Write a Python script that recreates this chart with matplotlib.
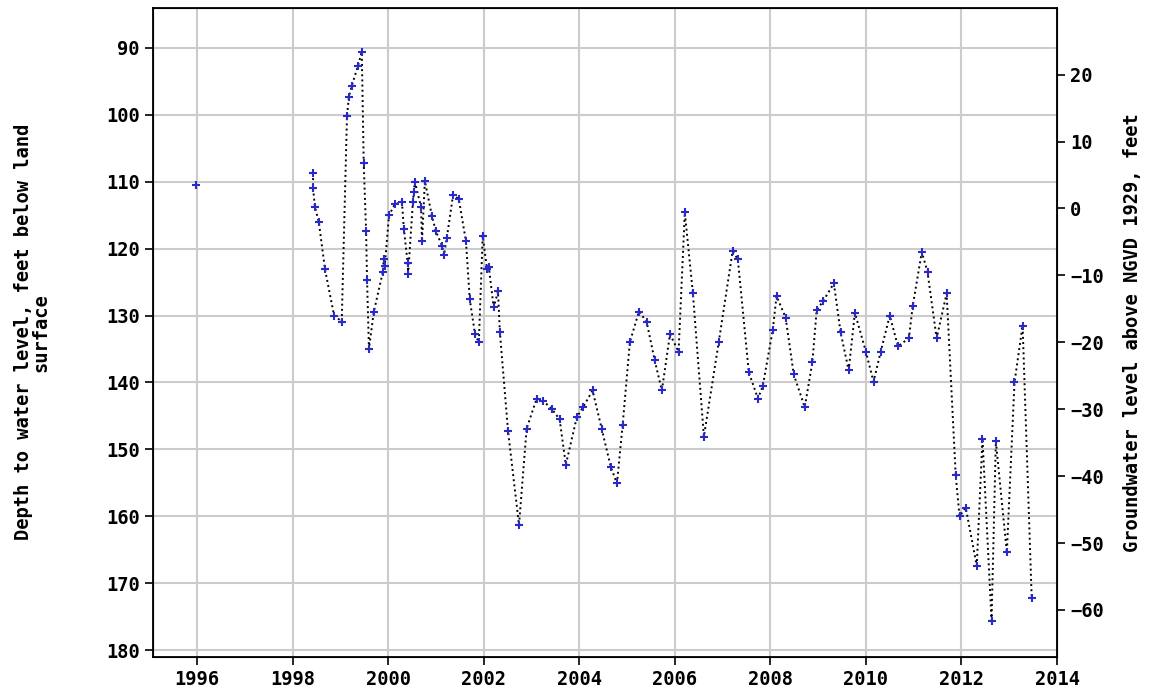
import matplotlib.pyplot as plt

# isolated early measurement
yr0 = [1995.98]
dep0 = [110.5]

years = [1998.43, 1998.43, 1998.47, 1998.55, 1998.68, 1998.87, 1999.03, 1999.14, 1999.18, 1999.24,
         1999.37, 1999.45, 1999.49, 1999.54, 1999.56, 1999.60, 1999.70, 1999.89, 1999.91, 1999.93,
         2000.02, 2000.14, 2000.29, 2000.33, 2000.41, 2000.42, 2000.52, 2000.54, 2000.56, 2000.69,
         2000.71, 2000.77, 2000.92, 2001.00, 2001.13, 2001.17, 2001.23, 2001.36, 2001.48, 2001.63,
         2001.71, 2001.82, 2001.90, 2001.98, 2002.07, 2002.11, 2002.21, 2002.30, 2002.34, 2002.51,
         2002.74, 2002.90, 2003.11, 2003.24, 2003.43, 2003.59, 2003.72, 2003.95, 2004.08, 2004.28,
         2004.47, 2004.66, 2004.79, 2004.91, 2005.06, 2005.25, 2005.41, 2005.58, 2005.73, 2005.90,
         2006.08, 2006.21, 2006.38, 2006.61, 2006.92, 2007.21, 2007.32, 2007.55, 2007.74, 2007.84,
         2008.05, 2008.13, 2008.32, 2008.49, 2008.72, 2008.88, 2008.97, 2009.10, 2009.33, 2009.47,
         2009.64, 2009.77, 2010.00, 2010.16, 2010.31, 2010.50, 2010.67, 2010.90, 2010.98, 2011.17,
         2011.29, 2011.48, 2011.69, 2011.88, 2011.96, 2012.09, 2012.32, 2012.44, 2012.63, 2012.72,
         2012.95, 2013.11, 2013.28, 2013.47]
depth = [108.7, 111.0, 113.8, 116.0, 123.1, 130.0, 130.9, 100.2, 97.3, 95.7,
         92.7, 90.6, 107.2, 117.4, 124.7, 135.0, 129.5, 123.5, 121.6, 122.6,
         115.0, 113.4, 113.0, 117.0, 122.2, 123.8, 113.0, 111.5, 110.0, 113.8,
         118.9, 109.9, 115.2, 117.4, 119.6, 121.0, 118.4, 112.0, 112.6, 118.9,
         127.6, 132.8, 134.0, 118.1, 123.0, 122.8, 128.8, 126.4, 132.5, 147.2,
         161.3, 146.9, 142.4, 142.7, 144.0, 145.5, 152.3, 145.2, 143.7, 141.2,
         146.9, 152.6, 155.1, 146.3, 134.0, 129.4, 130.9, 136.7, 141.2, 132.8,
         135.4, 114.6, 126.7, 148.1, 134.0, 120.4, 121.6, 138.5, 142.4, 140.6,
         132.2, 127.1, 130.3, 138.8, 143.7, 137.0, 129.2, 127.9, 125.2, 132.5,
         138.2, 129.6, 135.4, 139.9, 135.4, 130.0, 134.6, 133.4, 128.6, 120.5,
         123.5, 133.4, 126.7, 153.9, 160.0, 158.7, 167.4, 148.4, 175.6, 148.8,
         165.4, 140.0, 131.5, 172.2]

xticks = [1996, 1998, 2000, 2002, 2004, 2006, 2008, 2010, 2012, 2014]
lticks = [90, 100, 110, 120, 130, 140, 150, 160, 170, 180]
rticks = [20, 10, 0, -10, -20, -30, -40, -50, -60]
datum = 114  # elevation = datum - depth

plt.rcParams['font.family'] = 'DejaVu Sans Mono'
plt.rcParams['font.weight'] = 'bold'
plt.rcParams['font.size'] = 13.5

fig = plt.figure(figsize=(11.59, 6.98), dpi=100)
ax = fig.add_axes([0.132, 0.059, 0.780, 0.930])
ax.plot(years, depth, ':', color='black', lw=1.4, zorder=2)
ax.plot(years, depth, '+', color='#2a2ac8', ms=6, mew=1.5, zorder=3)
ax.plot(yr0, dep0, '+', color='#2a2ac8', ms=6, mew=1.5, zorder=3)
ax.set_xlim(1995.08, 2014)
ax.set_ylim(181, 84)
ax.set_xticks(xticks)
ax.set_yticks(lticks)
ax.grid(color='#cccccc', lw=1.5)
ax.set_axisbelow(True)
ax.set_ylabel('Depth to water level, feet below land\nsurface', fontsize=13.5,
              fontweight='bold', labelpad=40, linespacing=0.9)
ax.tick_params(direction='out', length=6, width=1.2)
for s in ax.spines.values():
    s.set_linewidth(1.3)

ax2 = ax.twinx()
ax2.set_ylim(datum - 181, datum - 84)
ax2.set_yticks(rticks)
ax2.set_ylabel('Groundwater level above NGVD 1929, feet', fontsize=13.5,
               fontweight='bold', labelpad=14)
ax2.tick_params(direction='out', length=6, width=1.2)

fig.savefig('out.png')
